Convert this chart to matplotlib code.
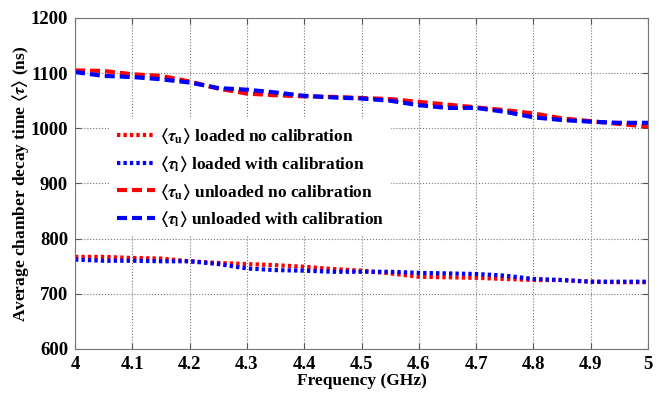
import numpy as np
import matplotlib.pyplot as plt

# Частоти (ГГц) та середній час загасання (нс)
freq = [4.0, 4.05, 4.1, 4.15, 4.2, 4.25, 4.3, 4.35, 4.4, 4.45, 4.5,
        4.55, 4.6, 4.65, 4.7, 4.75, 4.8, 4.85, 4.9, 4.95, 5.0]
loaded_nocal = [767, 767, 765, 764, 759, 756, 754, 752, 749, 745, 742,
                737, 731, 730, 729, 727, 725, 725, 722, 721, 721]
loaded_cal = [762, 760, 760, 759, 759, 754, 746, 743, 742, 740, 740,
              740, 738, 737, 736, 733, 727, 725, 722, 722, 722]
unloaded_nocal = [1105, 1104, 1098, 1095, 1085, 1072, 1063, 1060, 1058, 1057, 1055,
                  1053, 1048, 1043, 1038, 1033, 1027, 1018, 1013, 1008, 1003]
unloaded_cal = [1102, 1095, 1093, 1089, 1083, 1073, 1070, 1065, 1059, 1056, 1054,
                1050, 1042, 1037, 1037, 1030, 1020, 1015, 1012, 1010, 1010]

labels = [r'$\langle\tau_{\mathbf{u}}\rangle$ loaded no calibration',
          r'$\langle\tau_{\mathbf{l}}\rangle$ loaded with calibration',
          r'$\langle\tau_{\mathbf{u}}\rangle$ unloaded no calibration',
          r'$\langle\tau_{\mathbf{l}}\rangle$ unloaded with calibration']
xticks = [4, 4.1, 4.2, 4.3, 4.4, 4.5, 4.6, 4.7, 4.8, 4.9, 5]
xticklabels = ['4', '4.1', '4.2', '4.3', '4.4', '4.5', '4.6', '4.7', '4.8', '4.9', '5']
yticks = [600, 700, 800, 900, 1000, 1100, 1200]

plt.rcParams['font.family'] = ['Liberation Serif', 'DejaVu Serif']
plt.rcParams['font.weight'] = 'bold'
plt.rcParams['mathtext.fontset'] = 'stix'

fig = plt.figure(figsize=(6.66, 3.94), dpi=100)
ax = fig.add_axes([75 / 666, 1 - 349 / 394, (648 - 75) / 666, (349 - 18) / 394])

dot = (0, (0.8, 0.75))
dash = (0, (2.4, 1.2))
ax.plot(freq, loaded_nocal, color='red', linestyle=dot, linewidth=3, label=labels[0])
ax.plot(freq, loaded_cal, color='blue', linestyle=dot, linewidth=3, label=labels[1])
ax.plot(freq, unloaded_nocal, color='red', linestyle=dash, linewidth=3, label=labels[2])
ax.plot(freq, unloaded_cal, color='blue', linestyle=dash, linewidth=3, label=labels[3])

ax.set_xlim(4, 5)
ax.set_ylim(600, 1200)
ax.set_xticks(xticks)
ax.set_xticklabels(xticklabels)
ax.set_yticks(yticks)
ax.tick_params(direction='in', top=True, right=True, labelsize=13.5, length=4,
               color='#555555', pad=5)
for lab in ax.get_xticklabels() + ax.get_yticklabels():
    lab.set_fontweight('bold')
ax.grid(True, linestyle=':', color='#777777', linewidth=0.8)
for sp in ax.spines.values():
    sp.set_color('#777777')

ax.set_xlabel('Frequency (GHz)', fontsize=12.5, fontweight='bold', labelpad=0)
ax.set_ylabel(r'Average chamber decay time $\langle\tau\rangle$ (ns)', fontsize=12.5,
              fontweight='bold', labelpad=0)

leg = ax.legend(loc='upper left', bbox_to_anchor=(110 / 666, 1 - 119 / 394),
                bbox_transform=fig.transFigure, fontsize=12.5, frameon=True,
                handlelength=2.2, handletextpad=0.3, labelspacing=0.45,
                borderaxespad=0, borderpad=0.4, fancybox=False)
leg.get_frame().set_edgecolor('none')
leg.get_frame().set_alpha(1)

plt.savefig('out.png', dpi=100)
